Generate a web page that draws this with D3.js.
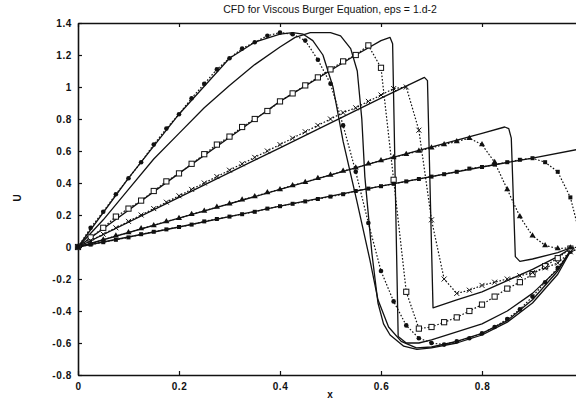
<!DOCTYPE html>
<html>
<head>
<meta charset="utf-8">
<script src="https://cdn.jsdelivr.net/npm/d3@7"></script>
<style>
  body { margin: 0; background: #fff; }
  text { font-family: "Liberation Sans", Arial, sans-serif; fill: #111; }
</style>
</head>
<body>
<div class="vis1"></div>
<script>
// grid points of the numerical solution
const xGrid = [0, 0.025, 0.05, 0.075, 0.1, 0.125, 0.15, 0.175, 0.2, 0.225,
  0.25, 0.275, 0.3, 0.325, 0.35, 0.375, 0.4, 0.425, 0.45, 0.475,
  0.5, 0.525, 0.55, 0.575, 0.6, 0.625, 0.65, 0.675, 0.7, 0.725,
  0.75, 0.775, 0.8, 0.825, 0.85, 0.875, 0.9, 0.925, 0.95, 0.975, 1.0];

// numerical values (dotted + markers)
const uCircles = [0, 0.12, 0.22, 0.33, 0.43, 0.53, 0.64, 0.74, 0.83, 0.93,
  1.02, 1.11, 1.18, 1.24, 1.28, 1.32, 1.34, 1.33, 1.29, 1.17,
  1.02, 0.76, 0.47, 0.15, -0.15, -0.34, -0.49, -0.57, -0.6, -0.61,
  -0.59, -0.57, -0.54, -0.5, -0.45, -0.39, -0.31, -0.22, -0.13, -0.03, 0];
const uOpenSquares = [0, 0.06, 0.12, 0.19, 0.24, 0.29, 0.35, 0.41, 0.46, 0.52,
  0.58, 0.64, 0.69, 0.75, 0.8, 0.85, 0.91, 0.96, 1.01, 1.06,
  1.11, 1.16, 1.2, 1.26, 1.12, 0.42, -0.28, -0.51, -0.5, -0.47,
  -0.44, -0.4, -0.36, -0.31, -0.26, -0.22, -0.17, -0.12, -0.07, -0.01, 0];
const uCrosses = [0, 0.04, 0.08, 0.12, 0.16, 0.2, 0.24, 0.28, 0.32, 0.36,
  0.4, 0.44, 0.48, 0.52, 0.56, 0.6, 0.64, 0.68, 0.72, 0.76,
  0.8, 0.84, 0.87, 0.91, 0.95, 0.99, 1.0, 0.73, 0.17, -0.2,
  -0.29, -0.27, -0.24, -0.22, -0.2, -0.18, -0.16, -0.13, -0.1, -0.03, 0];
const uTriangles = [0, 0.02, 0.045, 0.07, 0.09, 0.115, 0.135, 0.16, 0.18, 0.205,
  0.225, 0.25, 0.27, 0.295, 0.315, 0.34, 0.36, 0.385, 0.405, 0.43,
  0.45, 0.475, 0.495, 0.52, 0.54, 0.56, 0.58, 0.6, 0.62, 0.64,
  0.66, 0.68, 0.64, 0.53, 0.36, 0.19, 0.07, 0.01, -0.01, -0.005, 0];
const uFilledSquares = [0, 0.015, 0.03, 0.045, 0.06, 0.08, 0.095, 0.11, 0.125, 0.14,
  0.16, 0.175, 0.19, 0.205, 0.22, 0.24, 0.255, 0.27, 0.285, 0.3,
  0.315, 0.33, 0.35, 0.365, 0.38, 0.395, 0.41, 0.425, 0.44, 0.455,
  0.47, 0.49, 0.5, 0.515, 0.53, 0.545, 0.555, 0.53, 0.47, 0.31, 0];

// exact solutions (solid), [x, u]
const exactFlatTop = [[0, 0], [0.05, 0.17], [0.1, 0.36], [0.15, 0.55], [0.2, 0.71], [0.25, 0.87],
  [0.3, 1.01], [0.35, 1.14], [0.4, 1.25], [0.43, 1.31], [0.46, 1.34], [0.5, 1.34], [0.52, 1.32],
  [0.54, 1.24], [0.553, 1.1], [0.562, 0.8], [0.568, 0.44], [0.582, -0.04], [0.594, -0.35],
  [0.605, -0.48], [0.618, -0.55], [0.645, -0.62], [0.671, -0.64], [0.7, -0.63], [0.75, -0.6],
  [0.8, -0.55], [0.85, -0.47], [0.9, -0.35], [0.95, -0.17], [0.98, 0]];
const exactSteep = [[0, 0], [0.1, 0.43], [0.2, 0.83], [0.3, 1.18], [0.35, 1.28], [0.4, 1.33],
  [0.425, 1.34], [0.446, 1.33], [0.465, 1.29], [0.485, 1.2], [0.505, 1.0], [0.525, 0.66],
  [0.552, 0.29], [0.578, -0.08], [0.594, -0.33], [0.615, -0.5], [0.64, -0.59], [0.67, -0.63],
  [0.7, -0.625], [0.75, -0.59], [0.8, -0.54], [0.85, -0.46], [0.9, -0.33], [0.95, -0.15], [0.98, 0]];
const exactSquares = [[0, 0], [0.2, 0.46], [0.4, 0.91], [0.55, 1.2], [0.6, 1.29], [0.618, 1.31],
  [0.623, 1.27], [0.634, -0.56], [0.65, -0.6], [0.675, -0.6], [0.7, -0.58], [0.75, -0.53],
  [0.8, -0.48], [0.85, -0.4], [0.9, -0.29], [0.95, -0.14], [0.98, 0]];
const exactCrosses = [[0, 0], [0.2, 0.31], [0.4, 0.62], [0.6, 0.93], [0.686, 1.06], [0.692, 1.04],
  [0.703, -0.38], [0.75, -0.33], [0.8, -0.28], [0.85, -0.21], [0.9, -0.14], [0.95, -0.06], [0.98, 0]];
const exactTriangles = [[0, 0], [0.2, 0.18], [0.4, 0.36], [0.6, 0.54], [0.8, 0.71], [0.845, 0.75],
  [0.853, 0.74], [0.858, 0.68], [0.866, -0.06], [0.875, -0.09], [0.9, -0.075], [0.95, -0.035], [0.98, 0]];
const exactFilled = [[0, 0], [0.2, 0.125], [0.4, 0.255], [0.6, 0.38], [0.8, 0.5], [0.9, 0.556], [1.0, 0.616]];

const yTicks = [-0.8, -0.6, -0.4, -0.2, 0, 0.2, 0.4, 0.6, 0.8, 1, 1.2, 1.4];
const yTickLabels = ["-0.8", "-0.6", "-0.4", "-0.2", "0", "0.2", "0.4", "0.6", "0.8", "1", "1.2", "1.4"];
const xTicks = [0, 0.2, 0.4, 0.6, 0.8];
const xTickLabels = ["0", "0.2", "0.4", "0.6", "0.8"];

const margin = { top: 23, left: 78 };
const width = 505;
const height = 352;

const svg = d3.select(".vis1")
  .append("svg")
  .attr("width", 576)
  .attr("height", 399)
  .style("display", "block")
  .append("g")
  .attr("transform", "translate(" + margin.left + "," + margin.top + ")");

const xScale = d3.scaleLinear().domain([0, 1]).range([0, width]);
const yScale = d3.scaleLinear().domain([-0.8, 1.4]).range([height, 0]);

const ink = "#111";

// axes, ticks pointing inward
function styleAxis(g) {
  g.selectAll("path.domain").attr("stroke", ink).attr("stroke-width", 1.6);
  g.selectAll(".tick line").attr("stroke", ink).attr("stroke-width", 1.2);
  g.selectAll(".tick text")
    .attr("fill", ink)
    .style("font-size", "10px")
    .style("font-weight", "bold")
    .style("letter-spacing", "0.6px");
}

svg.append("g")
  .call(d3.axisLeft(yScale).tickValues(yTicks)
    .tickFormat((d, i) => yTickLabels[i])
    .tickSizeInner(-4).tickSizeOuter(0).tickPadding(6))
  .call(styleAxis);

svg.append("g")
  .attr("transform", "translate(0," + height + ")")
  .call(d3.axisBottom(xScale).tickValues(xTicks)
    .tickFormat((d, i) => xTickLabels[i])
    .tickSizeInner(-4).tickSizeOuter(0).tickPadding(8))
  .call(styleAxis);

svg.append("g")
  .call(d3.axisTop(xScale).tickValues(xTicks).tickFormat("")
    .tickSizeInner(-4).tickSizeOuter(0))
  .call(styleAxis);

svg.append("g")
  .attr("transform", "translate(" + width + ",0)")
  .call(d3.axisRight(yScale).tickValues(yTicks).tickFormat("")
    .tickSizeInner(-4).tickSizeOuter(0))
  .call(styleAxis);

// title and labels
svg.append("text")
  .attr("x", 252)
  .attr("y", -10)
  .style("text-anchor", "middle")
  .style("font-size", "10.5px")
  .text("CFD for Viscous Burger Equation, eps = 1.d-2");

svg.append("text")
  .attr("x", 252)
  .attr("y", height + 23)
  .style("text-anchor", "middle")
  .style("font-size", "10px")
  .style("font-weight", "bold")
  .text("x");

svg.append("text")
  .attr("transform", "rotate(-90)")
  .attr("x", -175)
  .attr("y", -61)
  .attr("dy", "0.35em")
  .style("text-anchor", "middle")
  .style("font-size", "10px")
  .style("font-weight", "bold")
  .text("U");

const line = d3.line()
  .x(d => xScale(d[0]))
  .y(d => yScale(d[1]));

// exact solutions
[exactFlatTop, exactSteep, exactSquares, exactCrosses, exactTriangles, exactFilled].forEach(pts => {
  svg.append("path")
    .datum(pts)
    .attr("fill", "none")
    .attr("stroke", ink)
    .attr("stroke-width", 1.3)
    .attr("stroke-linejoin", "round")
    .attr("d", line);
});

// numerical solutions
const numerical = [
  { u: uCircles, marker: "circle" },
  { u: uOpenSquares, marker: "openSquare" },
  { u: uCrosses, marker: "cross" },
  { u: uTriangles, marker: "triangle" },
  { u: uFilledSquares, marker: "filledSquare" }
];

numerical.forEach(s => {
  const pts = xGrid.map((x, i) => [x, s.u[i]]);

  svg.append("path")
    .datum(pts)
    .attr("fill", "none")
    .attr("stroke", ink)
    .attr("stroke-width", 1.2)
    .attr("stroke-dasharray", "1.6,1.8")
    .attr("d", line);

  const g = svg.append("g");
  const sel = g.selectAll(".m").data(pts).enter();

  if (s.marker === "circle") {
    sel.append("circle")
      .attr("cx", d => xScale(d[0]))
      .attr("cy", d => yScale(d[1]))
      .attr("r", 2.3)
      .attr("fill", ink);
  } else if (s.marker === "openSquare") {
    sel.append("rect")
      .attr("x", d => xScale(d[0]) - 2.6)
      .attr("y", d => yScale(d[1]) - 2.6)
      .attr("width", 5.2)
      .attr("height", 5.2)
      .attr("fill", "#fff")
      .attr("stroke", ink)
      .attr("stroke-width", 1);
  } else if (s.marker === "cross") {
    sel.append("path")
      .attr("transform", d => "translate(" + xScale(d[0]) + "," + yScale(d[1]) + ")")
      .attr("d", "M-2.5,-2.5L2.5,2.5M-2.5,2.5L2.5,-2.5")
      .attr("stroke", ink)
      .attr("stroke-width", 1);
  } else if (s.marker === "triangle") {
    sel.append("path")
      .attr("transform", d => "translate(" + xScale(d[0]) + "," + yScale(d[1]) + ")")
      .attr("d", d3.symbol().type(d3.symbolTriangle).size(16))
      .attr("fill", ink);
  } else {
    sel.append("rect")
      .attr("x", d => xScale(d[0]) - 2)
      .attr("y", d => yScale(d[1]) - 2)
      .attr("width", 4)
      .attr("height", 4)
      .attr("fill", ink);
  }
});
</script>
</body>
</html>
